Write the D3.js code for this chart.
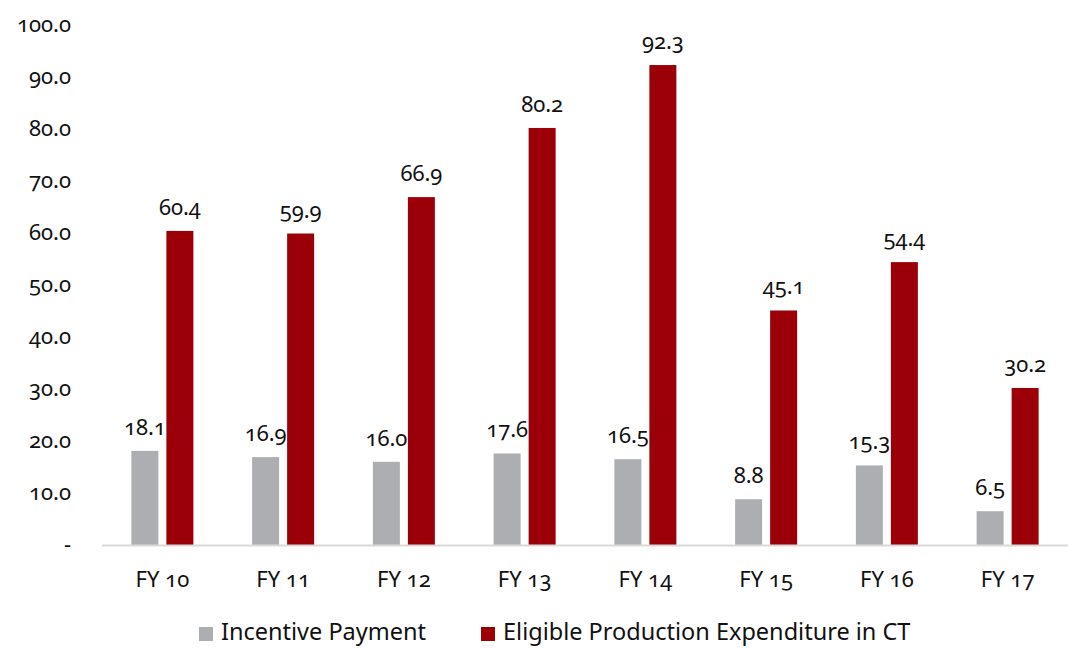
<!DOCTYPE html>
<html><head><meta charset="utf-8">
<script src="https://cdn.jsdelivr.net/npm/d3@7"></script>
<style>
body{margin:0;background:#fff;}
text{font-family:"Noto Sans","Open Sans",sans-serif;font-variant-numeric:oldstyle-nums;font-feature-settings:"onum" 1;fill:#111;}
</style></head><body>
<svg id="c" width="1072" height="648"></svg>
<script>
const categories = ["FY 10","FY 11","FY 12","FY 13","FY 14","FY 15","FY 16","FY 17"];
const incentive = [18.1,16.9,16.0,17.6,16.5,8.8,15.3,6.5];
const eligible = [60.4,59.9,66.9,80.2,92.3,45.1,54.4,30.2];
const seriesNames = ["Incentive Payment","Eligible Production Expenditure in CT"];
const seriesColors = ["#adaeb1","#9b0008"];
const yTicks = [0,10,20,30,40,50,60,70,80,90,100];

(function(){
const svg = d3.select("#c");
const pL = 102, pR = 1068, pT = 25, pB = 545;
const x = d3.scaleBand().domain(categories).range([pL,pR]).paddingInner(0).paddingOuter(0);
const y = d3.scaleLinear().domain([0,100]).range([pB,pT]);
const barW = 27, gap = 8;

svg.append("g").selectAll("text").data(yTicks).join("text")
  .attr("x",71).attr("y",d=>y(d)).attr("dy","0.3em")
  .attr("text-anchor","end").style("font-size","22px")
  .text(d=>d===0?"-":d.toFixed(1));

const series = [incentive, eligible];
series.forEach((vals,si)=>{
  const g = svg.append("g");
  const bx = (c)=> x(c)+x.bandwidth()/2 + (si===0 ? -(gap/2+barW) : gap/2);
  g.selectAll("rect").data(vals).join("rect")
    .attr("x",(d,i)=>bx(categories[i])).attr("width",barW)
    .attr("y",d=>y(d)).attr("height",d=>pB-y(d))
    .attr("fill",seriesColors[si]);
  g.selectAll("text").data(vals).join("text")
    .attr("x",(d,i)=>bx(categories[i])+barW/2).attr("y",d=>y(d)-16)
    .attr("text-anchor","middle").style("font-size","22px")
    .text(d=>d.toFixed(1));
});

svg.append("line").attr("x1",pL).attr("x2",pR).attr("y1",pB+0.5).attr("y2",pB+0.5)
  .attr("stroke","#d9d9d9").attr("stroke-width",2);

svg.append("g").selectAll("text").data(categories).join("text")
  .attr("x",d=>x(d)+x.bandwidth()/2).attr("y",587)
  .attr("text-anchor","middle").style("font-size","22px").text(d=>d);

const legX = [199,481];
seriesNames.forEach((n,i)=>{
  svg.append("rect").attr("x",legX[i]).attr("y",627).attr("width",14).attr("height",14).attr("fill",seriesColors[i]);
  svg.append("text").attr("x",legX[i]+22).attr("y",640).style("font-size","23.5px").text(n);
});
})();
</script>
</body></html>
